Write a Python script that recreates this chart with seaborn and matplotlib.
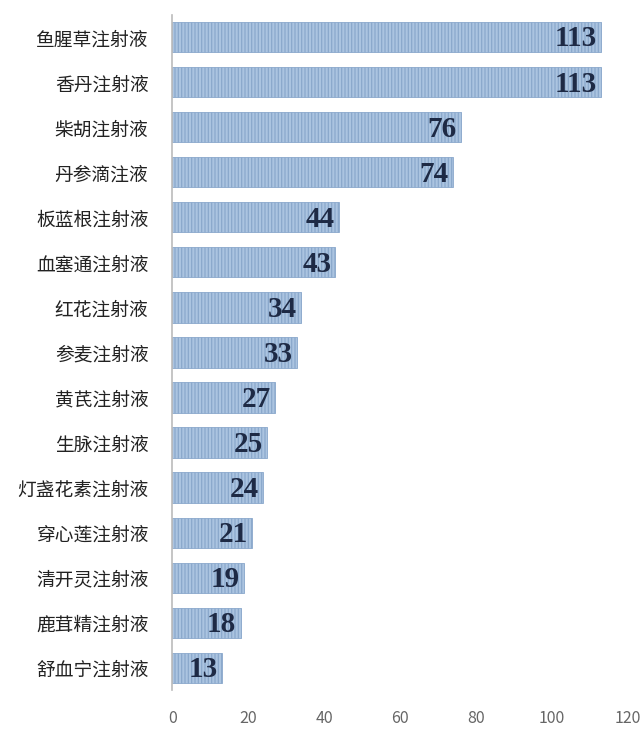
import matplotlib
matplotlib.use("Agg")
import matplotlib.pyplot as plt
import seaborn as sns
import pandas as pd

# data
drugs = ["鱼腥草注射液", "香丹注射液", "柴胡注射液", "丹参滴注液", "板蓝根注射液",
         "血塞通注射液", "红花注射液", "参麦注射液", "黄芪注射液", "生脉注射液",
         "灯盏花素注射液", "穿心莲注射液", "清开灵注射液", "鹿茸精注射液", "舒血宁注射液"]
counts = [113, 113, 76, 74, 44, 43, 34, 33, 27, 25, 24, 21, 19, 18, 13]
xticks = [0, 20, 40, 60, 80, 100, 120]

df = pd.DataFrame({"drug": drugs, "count": counts})

sns.set_style("white")
plt.rcParams['font.family'] = ['Noto Sans CJK SC', 'DejaVu Sans']
plt.rcParams['hatch.color'] = '#7597c2'
plt.rcParams['hatch.linewidth'] = 0.9

fig = plt.figure(figsize=(6.4, 7.32), dpi=100)
ax = fig.add_axes([0.269, 0.057, 0.712, 0.923])

sns.barplot(data=df, x="count", y="drug", color="#abc4e0", width=0.67,
            saturation=1, ax=ax)
for p in ax.patches:
    p.set_hatch('|||||')
    p.set_edgecolor('#8aa8cc')
    p.set_linewidth(0.6)

# value labels inside bar ends
for i, v in enumerate(counts):
    ax.text(v - 1.1, i + 0.04, str(v), ha="right", va="center",
            fontsize=21, fontweight="bold", family="Liberation Serif",
            color="#1e2a45")

ax.set_xlim(0, 120)
ax.set_xticks(xticks)
ax.set_xlabel("")
ax.set_ylabel("")
ax.tick_params(axis="x", labelsize=11.5, colors="#666666", length=0, pad=14)
ax.tick_params(axis="y", labelsize=13.5, length=0, pad=17, labelcolor="#222222")
for s in ["top", "right", "bottom"]:
    ax.spines[s].set_visible(False)
ax.spines["left"].set_color("#bbbbbb")
ax.spines["left"].set_linewidth(1.2)

fig.savefig("out.png", dpi=100)
